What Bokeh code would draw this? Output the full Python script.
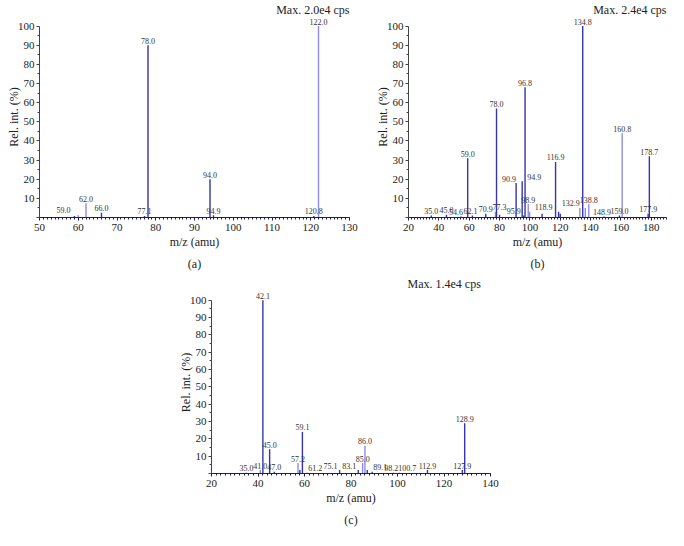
from bokeh.plotting import figure
from bokeh.models import LabelSet, ColumnDataSource, FixedTicker, Range1d, Spacer, Title
from bokeh.layouts import row, column
from bokeh.embed import file_html
from bokeh.resources import INLINE

# ---------------- data ----------------
# Panel (a)
A_mz = [59.0, 60.0, 62.0, 66.0, 77.1, 78.0, 94.0, 94.9, 120.8, 122.0]
A_int = [0.8, 1.2, 7.5, 2.5, 0.8, 90.0, 20.0, 1.2, 0.8, 100.0]
A_labels = ["59.0", "", "62.0", "66.0", "77.1", "78.0", "94.0", "94.9", "120.8", "122.0"]
A_xticks = [50, 60, 70, 80, 90, 100, 110, 120, 130]
A_max = "Max. 2.0e4 cps"

# Panel (b)
B_mz = [35.0, 45.0, 54.6, 59.0, 62.1, 70.9, 77.3, 78.0, 80.0, 90.9, 94.9, 95.9, 96.8,
        98.9, 99.8, 108.0, 116.9, 118.9, 120.0, 132.9, 134.8, 136.5, 138.8, 148.9,
        159.0, 160.8, 177.9, 178.7]
B_int = [1.0, 1.5, 0.5, 31.0, 1.0, 2.0, 3.0, 57.0, 1.5, 18.0, 19.0, 1.0, 68.0,
         7.0, 3.0, 2.0, 29.0, 3.0, 2.0, 5.0, 100.0, 5.0, 7.0, 0.5,
         1.0, 44.0, 2.0, 32.0]
B_labels = ["35.0", "45.0", "54.6", "59.0", "62.1", "70.9", "77.3", "78.0", "", "90.9",
            "94.9", "95.9", "96.8", "98.9", "", "", "116.9", "118.9", "", "132.9",
            "134.8", "", "138.8", "148.9", "159.0", "160.8", "177.9", "178.7"]
B_xticks = [20, 40, 60, 80, 100, 120, 140, 160, 180]
B_max = "Max. 2.4e4 cps"

# Panel (c)
C_mz = [35.0, 41.0, 42.1, 45.0, 47.0, 57.2, 58.0, 59.1, 61.2, 75.1, 83.1, 85.0, 86.0,
        87.0, 89.1, 98.2, 100.7, 112.9, 127.9, 128.9]
C_int = [0.5, 2.0, 100.0, 14.0, 1.0, 6.0, 2.0, 24.0, 0.5, 2.0, 2.0, 6.0, 16.0,
         2.0, 1.0, 0.5, 0.5, 2.0, 2.0, 29.0]
C_labels = ["35.0", "41.0", "42.1", "45.0", "47.0", "57.2", "", "59.1", "61.2", "75.1",
            "83.1", "85.0", "86.0", "", "89.1", "98.2", "100.7", "112.9", "127.9", "128.9"]
C_xticks = [20, 40, 60, 80, 100, 120, 140]
C_max = "Max. 1.4e4 cps"

Y_ticks = [0, 10, 20, 30, 40, 50, 60, 70, 80, 90, 100]
Y_label = "Rel. int. (%)"
X_label = "m/z (amu)"

# ---------------- styles ----------------
SERIF = "Liberation Serif"
DARK = "#3636a8"
LIGHT = "#8e8ee0"

A_light = {"62.0", "122.0", "60.0"}
B_light = {"160.8", "98.9", "99.8", "136.5", "138.8", "132.9", "77.3"}
C_light = {"86.0", "57.2", "85.0", "41.0"}

# label nudges (dx px, dy px)
A_nudge = {"59.0": (-11, 1)}
B_nudge = {"54.6": (-5, 0), "62.1": (-2, 0), "77.3": (4, 0), "90.9": (-7, 0),
           "94.9": (12, 0), "95.9": (-10, 0), "118.9": (-15, 0), "132.9": (-9, 0),
           "148.9": (-2, 0)}
C_nudge = {"61.2": (8, 0), "75.1": (-9, 0), "83.1": (-9, 0), "89.1": (8, 0),
           "98.2": (-2, 0), "100.7": (8, 0)}


def make_panel(mz, inten, labels, light, nudge, xr, xticks, minor_step, max_text,
               max_align, max_offset, max_standoff, tag, tag_standoff,
               width, height, bl, br, bt, bb):
    p = figure(width=width, height=height, x_range=Range1d(*xr), y_range=Range1d(0, 105),
               output_backend="svg", toolbar_location=None, title=max_text,
               min_border_left=bl, min_border_right=br, min_border_top=bt,
               min_border_bottom=bb)
    p.title.align = max_align
    p.title.offset = max_offset
    p.title.standoff = max_standoff
    p.title.text_font = SERIF
    p.title.text_font_size = "12px"
    p.title.text_font_style = "normal"
    p.title.text_color = "#222222"
    p.outline_line_color = None
    p.xgrid.visible = False
    p.ygrid.visible = False

    colors = [LIGHT if f"{m:.1f}" in light else DARK for m in mz]
    src = ColumnDataSource(dict(x=list(mz), y=list(inten), y0=[0] * len(mz), c=colors))
    p.segment(x0="x", y0="y0", x1="x", y1="y", source=src, line_color="c", line_width=1.4)

    lx, ly, lt, dxs, dys = [], [], [], [], []
    for m, v, t in zip(mz, inten, labels):
        if not t:
            continue
        dx, dy = nudge.get(t, (0, 0))
        lx.append(m); ly.append(v); lt.append(t); dxs.append(dx); dys.append(1.5 + dy)
    lsrc = ColumnDataSource(dict(x=lx, y=ly, t=lt, dx=dxs, dy=dys))
    p.add_layout(LabelSet(x="x", y="y", text="t", x_offset="dx", y_offset="dy", source=lsrc,
                          text_align="center", text_baseline="bottom",
                          text_font=SERIF, text_font_size="8px", text_color="#333333"))

    minor = [v for v in range(int(xr[0]), int(xr[1]) + 1, minor_step)]
    p.xaxis.ticker = FixedTicker(ticks=xticks, minor_ticks=minor)
    p.yaxis.ticker = FixedTicker(ticks=Y_ticks, minor_ticks=[v + 5 for v in Y_ticks[:-1]])
    p.yaxis.bounds = (0, 100)
    p.yaxis.major_label_overrides = {0: ""}
    for ax in (p.xaxis, p.yaxis):
        ax.major_label_text_font = SERIF
        ax.major_label_text_font_size = "11px"
        ax.major_label_text_color = "#222222"
        ax.major_tick_out = 3
        ax.major_tick_in = 0
        ax.minor_tick_out = 2
        ax.minor_tick_in = 0
        ax.major_label_standoff = 3
        ax.axis_label_text_font = SERIF
        ax.axis_label_text_font_size = "12px"
        ax.axis_label_text_font_style = "normal"
        ax.axis_label_text_color = "#222222"
    p.yaxis.axis_label = Y_label
    p.yaxis.major_label_standoff = 2
    p.yaxis.axis_label_standoff = -6
    p.xaxis.axis_label = X_label
    p.xaxis.axis_label_standoff = 1
    p.xaxis.axis_line_color = "#1c1c66"
    p.xaxis.major_tick_line_color = "#1c1c66"
    p.xaxis.minor_tick_line_color = "#1c1c66"
    p.yaxis.axis_line_color = "#444444"
    p.yaxis.major_tick_line_color = "#444444"
    p.yaxis.minor_tick_line_color = "#444444"

    p.add_layout(Title(text=tag, align="center", text_font=SERIF, text_font_size="12px",
                       text_font_style="normal", text_color="#222222",
                       standoff=tag_standoff), "below")
    return p


pa = make_panel(A_mz, A_int, A_labels, A_light, A_nudge, (50, 130), A_xticks, 1,
                A_max, "right", 0, 0, "(a)", 6,
                width=358, height=273, bl=39, br=9, bt=15, bb=56)
pb = make_panel(B_mz, B_int, B_labels, B_light, B_nudge, (20, 190), B_xticks, 2,
                B_max, "right", 0, 0, "(b)", 6,
                width=310, height=273, bl=50, br=2, bt=15, bb=56)
pc = make_panel(C_mz, C_int, C_labels, C_light, C_nudge, (20, 140), C_xticks, 2,
                C_max, "left", 196, 2, "(c)", 6,
                width=370, height=256, bl=61, br=30, bt=14, bb=54)

layout = column(row(pa, pb), row(Spacer(width=150, height=256), pc))
open("out.html", "w").write(file_html(layout, INLINE))
